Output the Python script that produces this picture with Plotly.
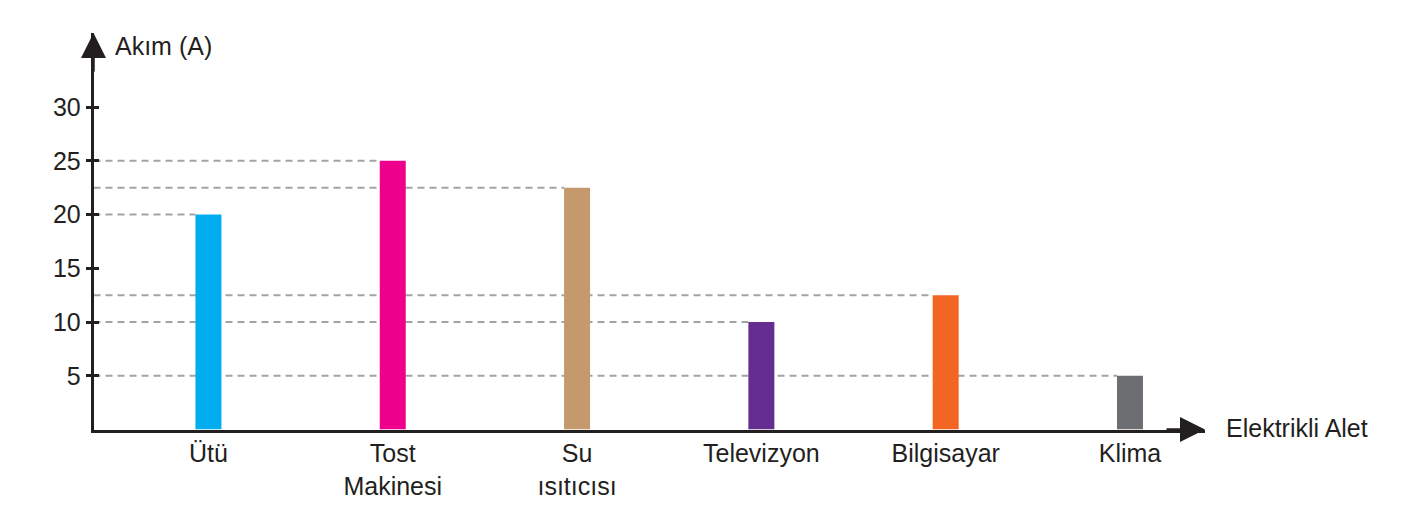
import plotly.graph_objects as go

categories = ["Ütü", "Tost<br>Makinesi", "Su<br>ısıtıcısı", "Televizyon", "Bilgisayar", "Klima"]
values = [20, 25, 22.5, 10, 12.5, 5]
colors = ["#00AEEF", "#EC008C", "#C4996C", "#662D91", "#F26522", "#6D6E71"]
y_ticks = [5, 10, 15, 20, 25, 30]

W, H = 1424, 514
ax_x_px, tip_x_px = 93.5, 1205
base_y_px, tip_y_px = 429.5, 33
bar_w = 0.141
x_range = [-0.6236, 5.407]
y_range = [0, 36.9]

FONT = "Liberation Sans, Arial, sans-serif"
TXT = "#231F20"
AX = "#231F20"
FS = 25

fig = go.Figure()
fig.add_trace(go.Bar(x=categories, y=values, marker=dict(color=colors, line=dict(width=0)),
                     width=bar_w, hoverinfo="skip"))

# dashed guide lines from axis to left edge of each bar
for i, v in enumerate(values):
    fig.add_shape(type="line", xref="x", yref="y", x0=x_range[0], x1=i - bar_w / 2, y0=v, y1=v,
                  line=dict(color="#A3A3A3", width=2, dash="7px,5px"), layer="below")

fig.update_layout(
    width=W, height=H, margin=dict(l=0, r=0, t=0, b=0),
    paper_bgcolor="white", plot_bgcolor="white", showlegend=False,
    font=dict(family=FONT, size=FS, color=TXT),
    xaxis=dict(domain=[ax_x_px / W, tip_x_px / W], range=x_range, showgrid=False, zeroline=False,
               showline=True, linecolor=AX, linewidth=2.5, ticks="", tickfont=dict(size=FS, color=TXT),
               anchor="y", fixedrange=True),
    yaxis=dict(domain=[(H - base_y_px) / H, (H - tip_y_px) / H], range=y_range, showgrid=False,
               zeroline=False, showline=True, linecolor=AX, linewidth=2.5, tickvals=y_ticks,
               ticks="outside", ticklen=5, tickwidth=2.5, tickcolor=AX,
               tickfont=dict(size=FS, color=TXT), ticklabelstandoff=0, anchor="x"),
    yaxis2=dict(overlaying="y", matches="y", side="left", anchor="x", tickvals=y_ticks, ticks="inside",
                ticklen=5, tickwidth=2.5, tickcolor=AX, showticklabels=False, showgrid=False,
                zeroline=False, showline=False),
)
fig.add_trace(go.Scatter(x=[categories[0]], y=[0], yaxis="y2", mode="markers",
                         marker=dict(opacity=0), hoverinfo="skip"))

# axis arrowheads
fig.add_annotation(xref="paper", yref="paper", x=tip_x_px / W, y=(H - base_y_px) / H,
                   ax=-40, ay=0, axref="pixel", ayref="pixel", showarrow=True, arrowhead=2,
                   arrowsize=2.0, arrowwidth=2.5, arrowcolor=AX, text="")
fig.add_annotation(xref="paper", yref="paper", x=ax_x_px / W, y=(H - tip_y_px) / H,
                   ax=0, ay=40, axref="pixel", ayref="pixel", showarrow=True, arrowhead=2,
                   arrowsize=2.0, arrowwidth=2.5, arrowcolor=AX, text="")

fig.add_annotation(xref="paper", yref="paper", x=113 / W, y=(H - 46) / H, xanchor="left",
                   yanchor="middle", text="Akım (A)", showarrow=False, font=dict(size=FS, color=TXT))
fig.add_annotation(xref="paper", yref="paper", x=1224 / W, y=(H - 428) / H, xanchor="left",
                   yanchor="middle", text="Elektrikli Alet", showarrow=False, font=dict(size=FS, color=TXT))

fig.write_html("out.html")
